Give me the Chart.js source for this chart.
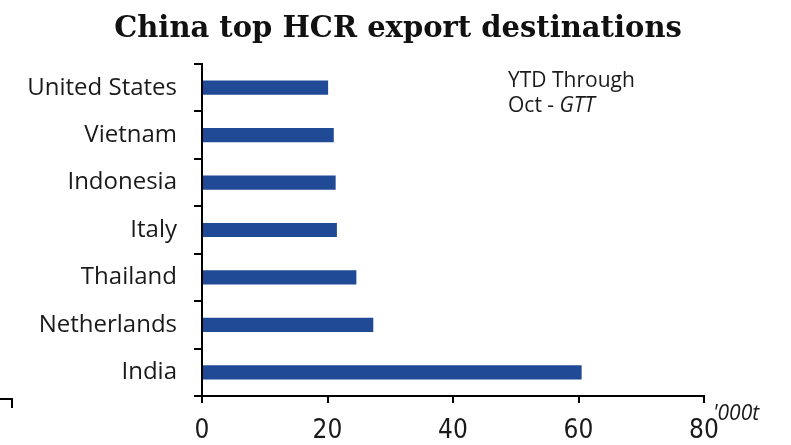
<!DOCTYPE html>
<html>
<head>
<meta charset="utf-8">
<script src="https://cdn.jsdelivr.net/npm/chart.js@4.4.0/dist/chart.umd.min.js"></script>
<style>
  body { margin: 0; background: #fff; }
  #wrap { width: 791px; height: 445px; }
</style>
</head>
<body>
<div id="wrap"><canvas id="hcrChart" width="791" height="445"></canvas></div>
<script>
// HCR exports, year to date through October ('000t)
var destinations = ["United States", "Vietnam", "Indonesia", "Italy", "Thailand", "Netherlands", "India"];
var exportVolumes = [20.1, 21.0, 21.3, 21.5, 24.6, 27.3, 60.5];
var xTicks = [0, 20, 40, 60, 80];

var chartTitle = 'China top HCR export destinations';

// title, source note, unit label
var notesPlugin = {
    id: 'notes',
    afterDraw: function (chart) {
        var ctx = chart.ctx;
        var area = chart.chartArea;
        ctx.save();
        ctx.fillStyle = '#111';
        ctx.textBaseline = 'alphabetic';

        ctx.textAlign = 'center';
        ctx.font = 'bold 29px "DejaVu Serif"';
        ctx.fillText(chartTitle, 398, 37);

        ctx.textAlign = 'left';
        ctx.fillStyle = '#1a1a1a';
        var sx = area.left + 306;
        ctx.font = '21px "Open Sans"';
        ctx.fillText('YTD Through', sx, area.top + 23);
        var part = 'Oct - ';
        ctx.fillText(part, sx, area.top + 48);
        var w = ctx.measureText(part).width;
        ctx.font = 'italic 21px "Open Sans"';
        ctx.fillText('GTT', sx + w, area.top + 48);

        ctx.font = 'italic 21px "Open Sans"';
        ctx.fillText("'000t", area.right + 9, area.bottom + 24);

        // small corner mark, bottom left
        ctx.strokeStyle = '#000';
        ctx.lineWidth = 2;
        ctx.beginPath();
        ctx.moveTo(0, 399);
        ctx.lineTo(12, 399);
        ctx.lineTo(12, 408);
        ctx.stroke();
        ctx.restore();
    }
};

var ctxB = document.getElementById("hcrChart").getContext('2d');
var hcrChart = new Chart(ctxB, {
    type: 'bar',
    data: {
        labels: destinations,
        datasets: [{
            label: "HCR exports",
            data: exportVolumes,
            backgroundColor: '#214a96',
            borderWidth: 0,
            categoryPercentage: 1.0,
            barPercentage: 0.3
        }]
    },
    options: {
        indexAxis: 'y',
        responsive: false,
        animation: false,
        layout: { padding: { left: 0, right: 87, top: 64, bottom: 0 } },
        plugins: {
            legend: { display: false },
            tooltip: { enabled: false },
            title: { display: false }
        },
        scales: {
            x: {
                min: 0,
                max: 80,
                afterBuildTicks: function (scale) {
                    scale.ticks = xTicks.map(function (v) { return { value: v }; });
                },
                afterFit: function (scale) { scale.height = 49; },
                grid: {
                    drawOnChartArea: false,
                    drawTicks: true,
                    tickLength: 7,
                    color: '#000',
                    lineWidth: 2
                },
                border: { color: '#000', width: 2 },
                ticks: {
                    color: '#1a1a1a',
                    padding: 13,
                    font: { family: '"DejaVu Sans Condensed", "Open Sans"', size: 26 }
                }
            },
            y: {
                afterFit: function (scale) { scale.width = 202; },
                grid: {
                    drawOnChartArea: false,
                    drawTicks: true,
                    tickLength: 8,
                    color: '#000',
                    lineWidth: 2
                },
                border: { color: '#000', width: 2 },
                ticks: {
                    color: '#1a1a1a',
                    padding: 17,
                    font: { family: '"Open Sans"', size: 24 }
                }
            }
        }
    },
    plugins: [notesPlugin]
});
</script>
</body>
</html>
